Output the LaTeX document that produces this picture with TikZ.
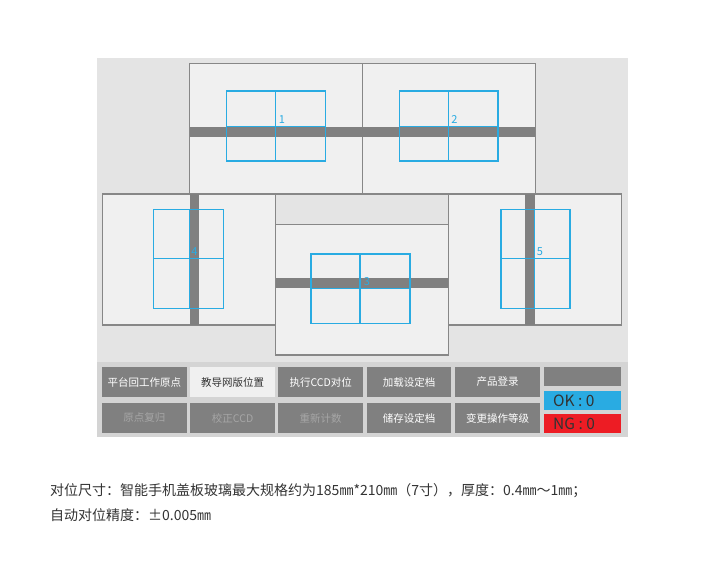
\documentclass[tikz,border=0pt]{standalone}
\usepackage{fontspec}
\setmainfont{Noto Sans CJK SC}
\newlength{\du}
\setlength{\du}{1pt}
\definecolor{bgcolor}{rgb}{0.894,0.894,0.894}
\definecolor{panelcolor}{rgb}{0.941,0.941,0.941}
\definecolor{edgecolor}{rgb}{0.530,0.530,0.530}
\definecolor{barcolor}{rgb}{0.502,0.502,0.502}
\definecolor{gridcolor}{rgb}{0.161,0.671,0.886}
\definecolor{dockcolor}{rgb}{0.831,0.831,0.831}
\definecolor{ngcolor}{rgb}{0.929,0.110,0.141}
\definecolor{offtext}{rgb}{0.650,0.650,0.650}
\definecolor{darktext}{rgb}{0.200,0.200,0.200}
\tikzset{
  panel/.style={fill=panelcolor, draw=edgecolor, line width=1.5\du},
  slotbar/.style={fill=barcolor},
  gridline/.style={draw=gridcolor, line width=1.5\du},
  gridlabel/.style={text=gridcolor, inner sep=0pt, font=\fontsize{11}{11}\selectfont},
  btn/.style={fill=barcolor, text=white, inner sep=0pt, minimum width=84.6\du, minimum height=30.6\du, font=\fontsize{10.5}{12}\selectfont},
  btnon/.style={btn, fill=panelcolor, text=darktext},
  btnoff/.style={btn, text=offtext},
  counter/.style={anchor=west, inner sep=0pt, text=darktext, font=\fontsize{15.5}{15.5}\selectfont},
  caption/.style={anchor=west, inner sep=0pt, text=darktext, font=\fontsize{14}{16}\selectfont}
}

\begin{document}
\begin{tikzpicture}
\pgftransformxscale{1.000000}
\pgftransformyscale{-1.000000}
\useasboundingbox (0\du,0\du) rectangle (725\du,570\du);
\fill[white] (0\du,0\du) rectangle (725\du,570\du);
% background of the machine view
\fill[bgcolor] (97\du,58\du) rectangle (628\du,437\du);
% top stations
\draw[panel] (189.6\du,63.5\du) rectangle (362.3\du,194\du);
\draw[panel] (362.3\du,63.5\du) rectangle (535.3\du,194\du);
\fill[slotbar] (189.6\du,126.7\du) rectangle (535.3\du,136.7\du);
% side stations
\draw[panel] (102.6\du,194\du) rectangle (275.6\du,325\du);
\draw[panel] (448.3\du,194\du) rectangle (621.5\du,325\du);
\fill[slotbar] (189.6\du,194\du) rectangle (199.2\du,325\du);
\fill[slotbar] (524.6\du,194\du) rectangle (534.6\du,325\du);
% middle station
\draw[panel] (275.6\du,224.3\du) rectangle (448.3\du,355\du);
\fill[slotbar] (275.6\du,278.3\du) rectangle (448.3\du,288.3\du);
% camera grids
\draw[gridline] (226.4\du,91\du) rectangle (325.5\du,161\du);
\draw[gridline] (275.6\du,91\du)--(275.6\du,161\du);
\draw[gridline] (226.4\du,126.7\du)--(325.5\du,126.7\du);
\node[gridlabel] (n1) at (281.8\du,120\du) {1};
\draw[gridline] (399.4\du,91\du) rectangle (498.2\du,161\du);
\draw[gridline] (448.3\du,91\du)--(448.3\du,161\du);
\draw[gridline] (399.4\du,126.7\du)--(498.2\du,126.7\du);
\node[gridlabel] (n2) at (454.5\du,120\du) {2};
\draw[gridline] (311\du,254\du) rectangle (410\du,323.7\du);
\draw[gridline] (359.9\du,254\du)--(359.9\du,323.7\du);
\draw[gridline] (311\du,288.3\du)--(410\du,288.3\du);
\node[gridlabel] (n3) at (367\du,282\du) {3};
\draw[gridline] (153.5\du,209.3\du) rectangle (223.3\du,308.3\du);
\draw[gridline] (189.6\du,209.3\du)--(189.6\du,308.3\du);
\draw[gridline] (153.5\du,258.3\du)--(223.3\du,258.3\du);
\node[gridlabel] (n4) at (194.5\du,252\du) {4};
\draw[gridline] (500.9\du,209.3\du) rectangle (570\du,308.3\du);
\draw[gridline] (534.6\du,209.3\du)--(534.6\du,308.3\du);
\draw[gridline] (500.9\du,258.3\du)--(570\du,258.3\du);
\node[gridlabel] (n5) at (540\du,252\du) {5};
% button dock
\fill[dockcolor] (97\du,361.7\du) rectangle (628\du,437\du);
\node[btn] (home) at (144.3\du,382\du) {平台回工作原点};
\node[btnon] (teach) at (232.6\du,382\du) {教导网版位置};
\node[btn] (align) at (320.7\du,382\du) {执行CCD对位};
\node[btn] (load) at (409.1\du,382\du) {加载设定档};
\node[btn] (login) at (497.5\du,382\du) {产品登录};
\node[btnoff] (reset) at (144.3\du,418\du) {原点复归};
\node[btnoff] (calib) at (232.6\du,418\du) {校正CCD};
\node[btnoff] (recount) at (320.7\du,418\du) {重新计数};
\node[btn] (save) at (409.1\du,418\du) {储存设定档};
\node[btn] (level) at (497.5\du,418\du) {变更操作等级};
\fill[barcolor] (543.6\du,366.7\du) rectangle (620.6\du,385.7\du);
\fill[gridcolor] (543.6\du,391\du) rectangle (620.6\du,410\du);
\fill[ngcolor] (543.6\du,414\du) rectangle (620.6\du,433.3\du);
\node[counter] (ok) at (553\du,400.5\du) {OK : 0};
\node[counter] (ng) at (553\du,424\du) {NG : 0};
% caption
\node[caption] (size) at (50\du,491\du) {对位尺寸：智能手机盖板玻璃最大规格约为185㎜*210㎜（7寸），厚度：0.4㎜～1㎜；};
\node[caption] (prec) at (50\du,515\du) {自动对位精度：±0.005㎜};
\end{tikzpicture}
\end{document}
